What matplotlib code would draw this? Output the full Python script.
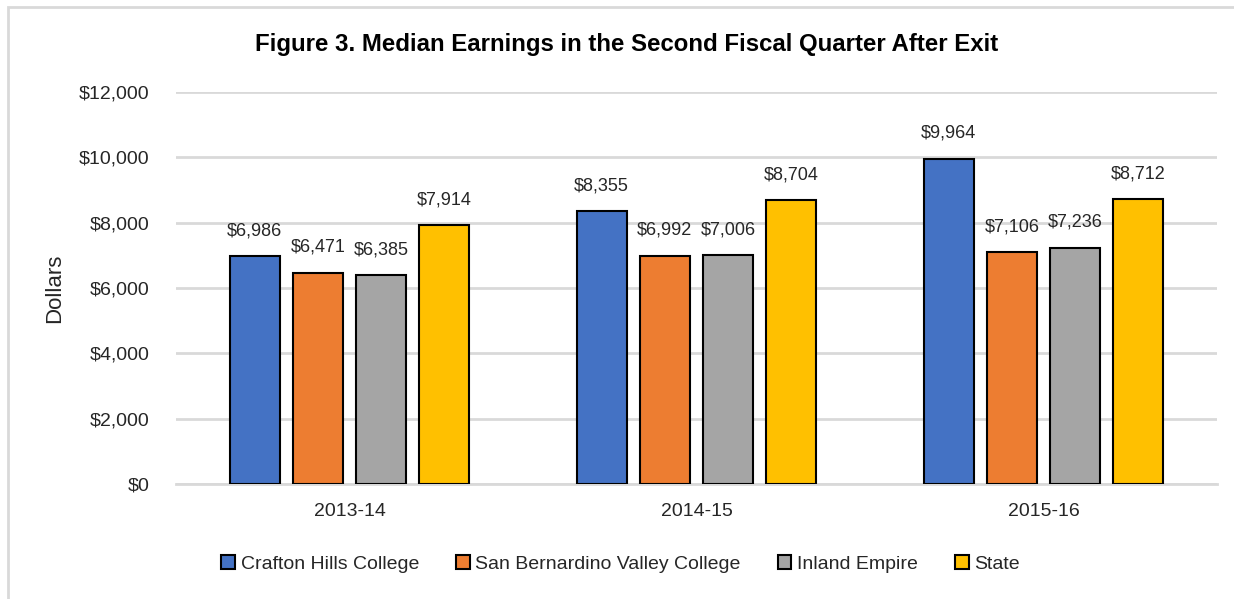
import matplotlib
matplotlib.use("Agg")
import matplotlib.pyplot as plt
import matplotlib.patches as mpatches
import numpy as np

# data
years = ["2013-14", "2014-15", "2015-16"]
crafton = [6986, 8355, 9964]
sbvc = [6471, 6992, 7106]
inland = [6385, 7006, 7236]
state = [7914, 8704, 8712]

series_names = ["Crafton Hills College", "San Bernardino Valley College",
                "Inland Empire", "State"]
colors = ["#4472C4", "#ED7D31", "#A5A5A5", "#FFC000"]

plt.rcParams['font.family'] = ['Liberation Sans', 'DejaVu Sans']

fig = plt.figure(figsize=(12.34, 5.99), dpi=100)
ax = fig.add_axes([0.1426, 0.192, 0.9862 - 0.1426, 0.8464 - 0.192])

x = np.arange(len(years))
width = 0.144
step = 0.182
all_series = [crafton, sbvc, inland, state]
for i, (vals, name, c) in enumerate(zip(all_series, series_names, colors)):
    offs = (i - 1.5) * step
    bars = ax.bar(x + offs, vals, width, color=c, edgecolor="black",
                  linewidth=1.5, label=name, zorder=3)
    for b, v in zip(bars, vals):
        ax.annotate(f"${v:,}", (b.get_x() + b.get_width() / 2, v),
                    xytext=(0, 12), textcoords="offset points",
                    ha="center", va="bottom", fontsize=13, color="#262626")

ax.set_xlim(-0.5, 2.5)
ax.set_ylim(0, 12000)
ax.set_yticks(range(0, 12001, 2000))
ax.set_yticklabels([f"${v:,}" for v in range(0, 12001, 2000)])
ax.set_xticks(x)
ax.set_xticklabels(years)
ax.tick_params(axis="y", length=0, pad=19, labelsize=14, colors="#262626")
ax.tick_params(axis="x", length=0, pad=14, labelsize=14, colors="#262626")
ax.grid(axis="y", color="#d9d9d9", linewidth=2, zorder=0)
for s in ["top", "right", "left"]:
    ax.spines[s].set_visible(False)
ax.spines["bottom"].set_color("#d9d9d9")
ax.spines["bottom"].set_linewidth(2)

ax.set_ylabel("Dollars", fontsize=16, color="#262626")
ax.yaxis.set_label_coords(-0.106, 0.5)

fig.text(0.508, 0.925, "Figure 3. Median Earnings in the Second Fiscal Quarter After Exit",
         ha="center", va="center", fontsize=17.3, fontweight="bold", color="black")

handles = [mpatches.Patch(facecolor=c, edgecolor="black", linewidth=1.5) for c in colors]
fig.legend(handles, series_names, loc="center", bbox_to_anchor=(0.503, 0.058),
           ncol=4, frameon=False, fontsize=14, handlelength=0.7, handleheight=0.7,
           handletextpad=0.3, columnspacing=1.9, labelcolor="#262626")

# light frame around the chart area
fig.patches.append(mpatches.Rectangle((8 / 1234, -0.1), 1.2, 1 - 7 / 599 + 0.1,
                                      transform=fig.transFigure, fill=False,
                                      edgecolor="#d9d9d9", linewidth=2))

fig.savefig("out.png", dpi=100)
